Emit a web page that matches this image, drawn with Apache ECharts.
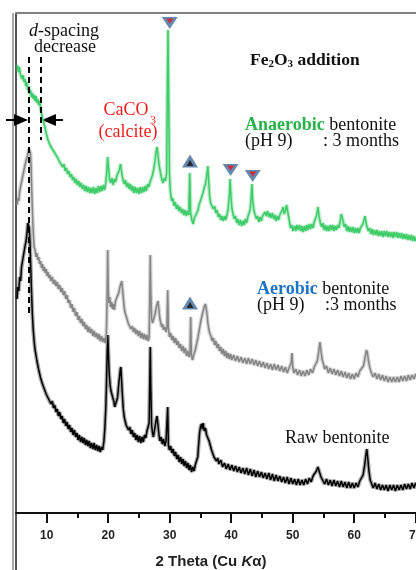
<!DOCTYPE html>
<html>
<head>
<meta charset="utf-8">
<script src="https://cdn.jsdelivr.net/npm/echarts@6/dist/echarts.min.js"></script>
<style>
  html, body { margin: 0; padding: 0; background: #fff; }
  #main { width: 416px; height: 570px; }
</style>
</head>
<body>
<div id="main"></div>
<script>
// x = 2 theta (deg), y = relative intensity (arbitrary, curves stacked)
var anaerobic = [
  [5.2,448],[5.4,441],[5.55,446],[5.7,439],[5.85,441],[6.0,434],[6.15,438],[6.3,431],[6.45,434],[6.6,427],[6.75,431],[6.9,423],[7.05,427],[7.2,419],[7.35,423],[7.5,416],[7.65,420],[7.8,414],[7.95,418],[8.1,412],[8.25,417],[8.4,410],[8.55,414],[8.7,408],[8.85,412],[9.0,404],[9.15,400],[9.3,395],[9.45,392],[9.6,388],[9.75,385],[9.9,380],[10.05,379],[10.2,373],[10.4,372],[10.6,367],[10.8,368],[11.0,363],[11.2,365],[11.4,359],[11.6,361],[11.8,355],[12.0,357],[12.2,350],[12.4,352],[12.6,346],[12.8,349],[13.0,342],[13.2,345],[13.4,339],[13.6,342],[13.8,336],[14.0,339],[14.2,333],[14.4,336],[14.6,330],[14.8,334],[15.0,328],[15.2,332],[15.4,326],[15.6,330],[15.8,324],[16.0,328],[16.2,322],[16.4,327],[16.6,321],[16.8,326],[17.0,320],[17.2,325],[17.4,320],[17.6,326],[17.8,319],[18.0,325],[18.2,320],[18.4,327],[18.6,321],[18.8,327],[19.0,322],[19.2,328],[19.4,323],[19.6,330],[19.75,340],[19.9,356],[20.05,345],[20.2,334],[20.4,330],[20.6,335],[20.8,328],[21.0,334],[21.2,331],[21.4,337],[21.6,336],[21.8,343],[22.0,349],[22.2,340],[22.4,333],[22.6,329],[22.8,333],[23.0,326],[23.2,330],[23.4,324],[23.6,329],[23.8,322],[24.0,327],[24.2,320],[24.4,326],[24.6,320],[24.8,325],[25.0,319],[25.2,326],[25.4,320],[25.6,326],[25.8,321],[26.0,327],[26.2,322],[26.4,329],[26.6,326],[26.8,331],[27.0,333],[27.2,338],[27.4,344],[27.6,352],[27.8,362],[27.95,366],[28.1,357],[28.3,347],[28.5,340],[28.7,334],[28.9,330],[29.1,335],[29.3,332],[29.5,340],[29.62,430],[29.72,483],[29.82,420],[29.95,340],[30.1,322],[30.3,312],[30.5,315],[30.7,307],[30.9,311],[31.1,304],[31.3,308],[31.5,302],[31.7,306],[31.9,300],[32.1,304],[32.3,298],[32.5,303],[32.7,297],[32.9,302],[33.1,298],[33.25,340],[33.4,300],[33.6,293],[33.8,289],[34.0,295],[34.2,293],[34.4,300],[34.6,303],[34.8,309],[35.0,312],[35.2,316],[35.4,320],[35.6,325],[35.8,329],[36.0,336],[36.2,347],[36.35,330],[36.5,316],[36.7,309],[36.9,311],[37.1,304],[37.3,307],[37.5,300],[37.7,303],[37.9,296],[38.1,299],[38.3,293],[38.5,297],[38.7,292],[38.9,297],[39.1,293],[39.3,298],[39.5,304],[39.7,318],[39.82,334],[39.95,318],[40.1,305],[40.3,299],[40.5,294],[40.7,297],[40.9,290],[41.1,294],[41.3,288],[41.5,293],[41.7,287],[41.9,292],[42.1,288],[42.3,294],[42.5,290],[42.7,296],[42.9,298],[43.1,304],[43.25,316],[43.37,329],[43.5,312],[43.7,302],[43.9,298],[44.1,294],[44.3,297],[44.5,291],[44.7,296],[44.9,292],[45.1,297],[45.3,295],[45.5,301],[45.7,297],[45.9,302],[46.1,296],[46.3,300],[46.5,295],[46.7,300],[46.9,294],[47.1,298],[47.3,292],[47.5,297],[47.7,293],[47.9,298],[48.1,296],[48.3,303],[48.45,306],[48.6,299],[48.8,302],[49.0,308],[49.1,309],[49.25,299],[49.45,292],[49.65,285],[49.85,288],[50.05,282],[50.3,287],[50.5,282],[50.7,288],[50.9,283],[51.1,288],[51.3,282],[51.5,287],[51.7,281],[51.9,287],[52.1,282],[52.3,288],[52.5,283],[52.7,289],[52.9,284],[53.1,289],[53.3,285],[53.5,291],[53.7,289],[53.9,298],[54.1,306],[54.3,296],[54.5,290],[54.7,286],[54.9,290],[55.1,283],[55.3,288],[55.5,282],[55.7,287],[55.9,282],[56.1,288],[56.3,283],[56.5,288],[56.7,282],[56.9,287],[57.1,283],[57.3,288],[57.5,285],[57.7,291],[57.9,299],[58.05,301],[58.2,292],[58.4,286],[58.6,289],[58.8,282],[59.0,287],[59.2,281],[59.4,286],[59.6,281],[59.8,286],[60.0,280],[60.2,285],[60.4,280],[60.6,285],[60.8,280],[61.0,285],[61.2,283],[61.4,289],[61.6,293],[61.75,297],[61.9,291],[62.1,286],[62.3,282],[62.5,285],[62.7,279],[62.9,284],[63.1,278],[63.3,283],[63.5,278],[63.7,283],[63.9,277],[64.1,282],[64.3,277],[64.5,282],[64.7,276],[64.9,282],[65.1,277],[65.3,282],[65.5,276],[65.7,281],[65.9,276],[66.1,281],[66.3,275],[66.5,281],[66.7,276],[66.9,281],[67.1,275],[67.3,280],[67.5,275],[67.7,280],[67.9,274],[68.1,279],[68.3,274],[68.5,279],[68.7,273],[68.9,278],[69.1,273],[69.3,278],[69.5,272],[69.7,277],[69.9,272],[70.1,276],[70.3,272],[70.5,276]
];

var aerobic = [
  [5.16,308],[5.3,315],[5.45,312],[5.6,322],[5.75,320],[5.9,331],[6.05,330],[6.2,340],[6.35,338],[6.5,349],[6.65,347],[6.8,356],[6.95,357],[7.1,364],[7.25,362],[7.35,360],[7.45,346],[7.55,325],[7.65,305],[7.75,288],[7.85,276],[7.95,266],[8.1,263],[8.25,256],[8.4,260],[8.55,253],[8.7,256],[8.85,249],[9.0,252],[9.15,245],[9.3,249],[9.45,242],[9.6,246],[9.75,240],[9.9,244],[10.05,237],[10.2,241],[10.35,235],[10.5,238],[10.7,232],[10.9,236],[11.1,229],[11.3,233],[11.5,227],[11.7,231],[11.9,224],[12.1,228],[12.3,221],[12.5,225],[12.7,218],[12.9,222],[13.1,214],[13.3,218],[13.5,210],[13.7,213],[13.9,205],[14.1,209],[14.3,201],[14.5,205],[14.7,197],[14.9,201],[15.1,193],[15.3,197],[15.5,190],[15.7,194],[15.9,187],[16.1,191],[16.3,184],[16.5,188],[16.7,181],[16.9,186],[17.1,180],[17.3,184],[17.5,177],[17.7,182],[17.9,176],[18.1,180],[18.3,174],[18.5,179],[18.7,172],[18.9,177],[19.1,171],[19.3,175],[19.5,170],[19.7,180],[19.82,215],[19.91,263],[20.0,225],[20.1,210],[20.25,216],[20.4,206],[20.55,211],[20.7,204],[20.85,209],[21.0,203],[21.15,211],[21.3,214],[21.5,217],[21.7,220],[21.9,226],[22.05,229],[22.2,232],[22.35,222],[22.5,212],[22.65,203],[22.8,199],[22.95,196],[23.1,193],[23.3,189],[23.5,190],[23.7,184],[23.9,187],[24.1,181],[24.3,185],[24.5,179],[24.7,183],[24.9,177],[25.1,182],[25.3,175],[25.5,180],[25.7,174],[25.9,179],[26.1,173],[26.3,178],[26.5,172],[26.65,176],[26.75,215],[26.84,258],[26.93,220],[27.05,195],[27.2,190],[27.4,194],[27.6,199],[27.8,205],[27.95,209],[28.1,212],[28.25,203],[28.4,194],[28.55,190],[28.7,186],[28.85,189],[29.0,183],[29.2,186],[29.4,181],[29.55,186],[29.67,223],[29.78,185],[29.95,176],[30.15,180],[30.35,173],[30.55,177],[30.75,170],[30.95,175],[31.15,168],[31.35,172],[31.55,165],[31.75,169],[31.95,162],[32.15,167],[32.35,160],[32.55,165],[32.75,157],[32.95,162],[33.15,156],[33.3,160],[33.41,196],[33.52,158],[33.7,153],[33.85,157],[34.0,158],[34.2,164],[34.4,170],[34.6,176],[34.8,183],[35.0,190],[35.2,196],[35.4,201],[35.6,206],[35.8,209],[35.9,211],[36.05,200],[36.2,190],[36.35,184],[36.5,180],[36.7,177],[36.9,172],[37.1,175],[37.3,168],[37.5,172],[37.7,165],[37.9,169],[38.1,162],[38.3,166],[38.5,159],[38.7,164],[38.9,157],[39.1,162],[39.3,155],[39.5,160],[39.7,154],[39.9,159],[40.1,153],[40.4,158],[40.7,152],[41.0,157],[41.3,151],[41.6,156],[41.9,150],[42.2,155],[42.5,149],[42.8,155],[43.1,149],[43.4,154],[43.7,148],[44.0,153],[44.3,147],[44.6,152],[44.9,146],[45.2,151],[45.5,145],[45.8,150],[46.1,144],[46.4,149],[46.7,143],[47.0,149],[47.3,143],[47.6,148],[47.9,142],[48.2,147],[48.5,141],[48.8,146],[49.1,140],[49.4,145],[49.6,143],[49.75,150],[49.88,160],[50.0,146],[50.2,140],[50.5,144],[50.8,138],[51.1,143],[51.4,137],[51.7,142],[52.0,137],[52.3,143],[52.6,138],[52.9,144],[53.2,140],[53.5,146],[53.8,145],[54.0,152],[54.2,160],[54.43,171],[54.6,162],[54.8,153],[55.0,149],[55.2,144],[55.5,147],[55.8,140],[56.1,145],[56.4,139],[56.7,144],[57.0,138],[57.3,143],[57.6,137],[57.9,142],[58.2,136],[58.5,141],[58.8,135],[59.1,140],[59.4,134],[59.7,139],[60.0,134],[60.3,140],[60.6,136],[60.9,142],[61.2,140],[61.5,147],[61.75,155],[62.0,163],[62.15,160],[62.35,151],[62.55,145],[62.8,140],[63.1,136],[63.4,140],[63.7,134],[64.0,139],[64.3,133],[64.6,138],[64.9,132],[65.2,137],[65.5,131],[65.8,136],[66.1,131],[66.4,136],[66.7,131],[67.0,136],[67.3,131],[67.6,137],[67.9,132],[68.2,137],[68.5,132],[68.8,138],[69.1,133],[69.4,138],[69.7,134],[70.0,139],[70.3,134],[70.6,138]
];

var raw = [
  [5.16,214],[5.3,226],[5.45,222],[5.6,236],[5.75,232],[5.9,246],[6.05,244],[6.2,257],[6.35,255],[6.5,268],[6.65,272],[6.8,281],[6.92,290],[7.02,292],[7.15,285],[7.28,270],[7.4,245],[7.52,222],[7.65,200],[7.8,183],[7.95,172],[8.1,163],[8.25,158],[8.4,152],[8.55,150],[8.7,143],[8.85,141],[9.0,135],[9.15,136],[9.3,129],[9.45,131],[9.6,124],[9.75,126],[9.9,119],[10.1,121],[10.3,114],[10.5,116],[10.7,109],[10.9,112],[11.1,105],[11.3,108],[11.5,101],[11.7,104],[11.9,97],[12.1,101],[12.3,94],[12.5,97],[12.7,90],[12.9,94],[13.1,87],[13.3,91],[13.5,84],[13.7,88],[13.9,81],[14.1,85],[14.3,78],[14.5,83],[14.7,76],[14.9,80],[15.1,73],[15.3,78],[15.5,71],[15.7,76],[15.9,70],[16.1,75],[16.3,68],[16.5,73],[16.7,67],[16.9,72],[17.1,65],[17.3,70],[17.5,64],[17.7,70],[17.9,63],[18.1,68],[18.3,62],[18.5,67],[18.7,61],[18.9,66],[19.1,63],[19.3,72],[19.45,85],[19.6,105],[19.72,130],[19.83,160],[19.93,178],[20.03,160],[20.15,140],[20.3,128],[20.45,122],[20.6,124],[20.75,115],[20.9,112],[21.05,106],[21.2,104],[21.35,108],[21.5,115],[21.65,125],[21.8,134],[21.95,143],[22.05,146],[22.15,135],[22.3,118],[22.45,104],[22.6,96],[22.75,94],[22.9,88],[23.1,90],[23.3,83],[23.5,86],[23.7,79],[23.9,83],[24.1,76],[24.3,80],[24.5,73],[24.7,78],[24.9,71],[25.1,77],[25.3,70],[25.5,76],[25.7,71],[25.9,78],[26.1,75],[26.3,82],[26.5,80],[26.65,90],[26.75,130],[26.84,166],[26.93,125],[27.05,88],[27.2,80],[27.35,76],[27.55,84],[27.75,91],[27.92,97],[28.1,88],[28.25,78],[28.4,72],[28.6,76],[28.8,69],[29.0,74],[29.2,67],[29.4,72],[29.55,70],[29.67,106],[29.78,68],[29.95,63],[30.15,67],[30.35,60],[30.55,64],[30.75,57],[30.95,61],[31.15,54],[31.35,58],[31.55,51],[31.75,56],[31.95,49],[32.15,54],[32.35,47],[32.55,52],[32.75,45],[32.95,50],[33.15,43],[33.35,48],[33.55,41],[33.75,46],[33.95,42],[34.15,48],[34.35,47],[34.55,56],[34.7,68],[34.85,80],[35.0,86],[35.15,89],[35.3,84],[35.45,90],[35.6,82],[35.8,85],[36.0,78],[36.2,80],[36.4,72],[36.6,70],[36.8,63],[37.0,62],[37.2,56],[37.4,58],[37.6,52],[37.8,55],[38.0,49],[38.3,53],[38.6,46],[38.9,50],[39.2,44],[39.5,49],[39.8,43],[40.1,48],[40.4,42],[40.7,47],[41.0,41],[41.3,46],[41.6,40],[41.9,45],[42.2,39],[42.5,45],[42.8,38],[43.1,44],[43.4,37],[43.7,43],[44.0,36],[44.3,42],[44.6,36],[44.9,41],[45.2,35],[45.5,40],[45.8,34],[46.1,40],[46.4,33],[46.7,39],[47.0,32],[47.3,38],[47.6,32],[47.9,37],[48.2,31],[48.5,36],[48.8,30],[49.1,36],[49.4,29],[49.7,35],[50.0,29],[50.3,34],[50.6,28],[50.9,34],[51.2,28],[51.5,33],[51.8,28],[52.1,34],[52.4,29],[52.7,35],[53.0,31],[53.3,37],[53.6,36],[53.85,42],[54.1,46],[54.35,41],[54.6,36],[54.9,34],[55.2,29],[55.5,34],[55.8,28],[56.1,33],[56.4,27],[56.7,33],[57.0,27],[57.3,32],[57.6,26],[57.9,32],[58.2,26],[58.5,31],[58.8,25],[59.1,31],[59.4,25],[59.7,30],[60.0,25],[60.3,30],[60.6,26],[60.9,32],[61.2,30],[61.45,38],[61.7,48],[61.9,58],[62.05,64],[62.2,55],[62.4,42],[62.6,33],[62.8,31],[63.1,25],[63.4,30],[63.7,24],[64.0,29],[64.3,23],[64.6,28],[64.9,23],[65.2,28],[65.5,22],[65.8,28],[66.1,23],[66.4,28],[66.7,22],[67.0,28],[67.3,23],[67.6,28],[67.9,23],[68.2,29],[68.5,24],[68.8,29],[69.1,24],[69.4,30],[69.7,25],[70.0,30],[70.3,25],[70.6,29]
];

// peak markers: calcite (down triangles) and the other phase (up triangles)
var calciteMarks = [[30.0, 490], [39.9, 343], [43.5, 337]];
var otherMarks = [[33.3, 352], [33.3, 210]];

// d-spacing guide lines [2theta, yFrom, yTo]
var dGuides = [[7.15, 456, 198], [9.07, 456, 373]];

var majorTicks = [10, 20, 30, 40, 50, 60, 70];
var minorTicks = [15, 25, 35, 45, 55, 65];

var serif = '"Liberation Serif", "Times New Roman", serif';
var sans = '"Liberation Sans", Arial, sans-serif';
var triColor = '#3f6c98';

var chart = echarts.init(document.getElementById('main'), null, { renderer: 'canvas' });

// the plot is cut at the right edge of the picture, right at 70 deg
var xMin = 5, xMax = 70.05;

// a noisy XRD trace: soft wide halo under a thin core line
function trace(name, data, color) {
  return [
    {
      name: name, type: 'line', data: data, showSymbol: false, silent: true,
      lineStyle: { color: color, width: 4, opacity: 0.35 }
    },
    {
      name: name, type: 'line', data: data, showSymbol: false,
      lineStyle: { color: color, width: 1.5 }
    }
  ];
}

var series = [].concat(
  trace('Raw bentonite', raw, '#000'),
  trace('Aerobic', aerobic, '#858585'),
  trace('Anaerobic', anaerobic, '#3dcc68')
);

series[1].markLine = {
  silent: true, symbol: ['none', 'none'], label: { show: false },
  lineStyle: { color: '#000', width: 2, type: [6, 4] },
  data: dGuides.map(function (g) {
    return [{ coord: [g[0], g[1]] }, { coord: [g[0], g[2]] }];
  })
};

series.push(
  {
    type: 'scatter', data: calciteMarks, symbol: 'triangle', symbolRotate: 180,
    symbolSize: [16, 12], itemStyle: { color: triColor }, z: 5
  },
  {
    type: 'scatter', data: calciteMarks, symbol: 'triangle', symbolRotate: 180,
    symbolSize: [7, 5], symbolOffset: [0, -2], itemStyle: { color: '#e8141b' }, z: 6
  },
  {
    type: 'scatter', data: otherMarks, symbol: 'triangle',
    symbolSize: [16, 13], itemStyle: { color: triColor }, z: 5
  },
  {
    type: 'scatter', data: otherMarks, symbol: 'triangle',
    symbolSize: [7, 6], symbolOffset: [0, 2], itemStyle: { color: '#111' }, z: 6
  }
);

var option = {
  animation: false,
  backgroundColor: '#fff',
  grid: { left: 16, top: 13, right: 0, height: 500, outerBoundsMode: 'none', containLabel: false },
  xAxis: [
    {
      type: 'value', min: xMin, max: xMax, position: 'bottom',
      axisLine: { show: true, onZero: false, lineStyle: { color: '#111', width: 2 } },
      axisTick: { show: true, customValues: majorTicks, length: 10, lineStyle: { color: '#111', width: 2 } },
      axisLabel: {
        customValues: majorTicks, margin: 17, showMaxLabel: true, hideOverlap: false,
        fontFamily: sans, fontWeight: 'bold', fontSize: 12, color: '#222'
      },
      splitLine: { show: false }
    },
    {
      type: 'value', min: xMin, max: xMax, position: 'bottom',
      axisLine: { show: false },
      axisTick: { show: true, customValues: minorTicks, length: 5, lineStyle: { color: '#111', width: 2 } },
      axisLabel: { show: false },
      splitLine: { show: false }
    },
    {
      type: 'value', min: xMin, max: xMax, position: 'top',
      axisLine: { show: true, lineStyle: { color: '#808080', width: 2 } },
      axisTick: { show: false },
      axisLabel: { show: false },
      splitLine: { show: false }
    }
  ],
  yAxis: {
    type: 'value', min: 0, max: 500,
    axisLine: { show: false }, axisTick: { show: false },
    axisLabel: { show: false }, splitLine: { show: false }
  },
  series: series,
  graphic: [
    // double left frame line
    { type: 'line', shape: { x1: 13, y1: 13, x2: 13, y2: 570 }, style: { stroke: '#8a8a8a', lineWidth: 1.5 } },
    { type: 'line', shape: { x1: 16, y1: 13, x2: 16, y2: 570 }, style: { stroke: '#555', lineWidth: 2 } },
    // arrows
    { type: 'line', shape: { x1: 6, y1: 120, x2: 16, y2: 120 }, style: { stroke: '#000', lineWidth: 2 } },
    { type: 'polygon', shape: { points: [[28, 120], [14, 114], [14, 126]] }, style: { fill: '#000' } },
    { type: 'polygon', shape: { points: [[42, 120], [56, 114], [56, 126]] }, style: { fill: '#000' } },
    { type: 'line', shape: { x1: 54, y1: 120, x2: 63, y2: 120 }, style: { stroke: '#000', lineWidth: 2 } },
    // texts
    {
      type: 'text', x: 64, y: 31,
      style: {
        text: '{i|d}-spacing', fontFamily: serif, fontSize: 18, fill: '#111',
        align: 'center', verticalAlign: 'middle',
        rich: { i: { fontStyle: 'italic', fontFamily: serif, fontSize: 18, fill: '#111' } }
      }
    },
    {
      type: 'text', x: 65, y: 47,
      style: { text: 'decrease', fontFamily: serif, fontSize: 18, fill: '#111', align: 'center', verticalAlign: 'middle' }
    },
    {
      type: 'text', x: 126, y: 110,
      style: { text: 'CaCO', fontFamily: serif, fontSize: 18, fill: '#f01e1e', align: 'center', verticalAlign: 'middle' }
    },
    {
      type: 'text', x: 153, y: 121,
      style: { text: '3', fontFamily: serif, fontSize: 12, fill: '#f01e1e', align: 'center', verticalAlign: 'middle' }
    },
    {
      type: 'text', x: 128, y: 132,
      style: { text: '(calcite)', fontFamily: serif, fontSize: 18, fill: '#f01e1e', align: 'center', verticalAlign: 'middle' }
    },
    {
      type: 'text', x: 250, y: 60,
      style: {
        text: '{b|Fe}{s|2}{b|O}{s|3}{b| addition}',
        align: 'left', verticalAlign: 'middle',
        rich: {
          b: { fontFamily: serif, fontWeight: 'bold', fontSize: 17.5, fill: '#111', lineHeight: 19 },
          s: { fontFamily: serif, fontWeight: 'bold', fontSize: 11, fill: '#111', lineHeight: 19, verticalAlign: 'bottom', padding: [6, 0, 0, 0] }
        }
      }
    },
    {
      type: 'text', x: 245, y: 125,
      style: {
        text: '{g|Anaerobic} bentonite', fontFamily: serif, fontSize: 18, fill: '#111',
        align: 'left', verticalAlign: 'middle',
        rich: { g: { fontFamily: serif, fontSize: 18, fontWeight: 'bold', fill: '#27b24a' } }
      }
    },
    { type: 'text', x: 245, y: 141, style: { text: '(pH 9)', fontFamily: serif, fontSize: 18, fill: '#111', align: 'left', verticalAlign: 'middle' } },
    { type: 'text', x: 323, y: 141, style: { text: ': 3 months', fontFamily: serif, fontSize: 18, fill: '#111', align: 'left', verticalAlign: 'middle' } },
    {
      type: 'text', x: 257, y: 289,
      style: {
        text: '{b|Aerobic} bentonite', fontFamily: serif, fontSize: 18, fill: '#111',
        align: 'left', verticalAlign: 'middle',
        rich: { b: { fontFamily: serif, fontSize: 18, fontWeight: 'bold', fill: '#1b74c6' } }
      }
    },
    { type: 'text', x: 257, y: 305, style: { text: '(pH 9)', fontFamily: serif, fontSize: 18, fill: '#111', align: 'left', verticalAlign: 'middle' } },
    { type: 'text', x: 325, y: 305, style: { text: ':3 months', fontFamily: serif, fontSize: 18, fill: '#111', align: 'left', verticalAlign: 'middle' } },
    { type: 'text', x: 285, y: 438, style: { text: 'Raw bentonite', fontFamily: serif, fontSize: 18, fill: '#111', align: 'left', verticalAlign: 'middle' } },
    {
      type: 'text', x: 211, y: 562,
      style: {
        text: '2 Theta (Cu {k|K}\u03b1)', fontFamily: sans, fontWeight: 'bold', fontSize: 15, fill: '#222',
        align: 'center', verticalAlign: 'middle',
        rich: { k: { fontFamily: sans, fontWeight: 'bold', fontStyle: 'italic', fontSize: 15, fill: '#222' } }
      }
    }
  ]
};

chart.setOption(option);
</script>
</body>
</html>
